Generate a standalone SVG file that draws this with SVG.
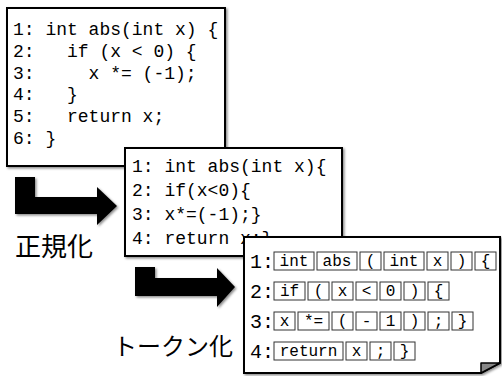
<svg xmlns="http://www.w3.org/2000/svg" width="502" height="376" viewBox="0 0 502 376">
  <defs>
    <filter id="shadow" x="-10%" y="-10%" width="130%" height="130%">
      <feDropShadow dx="1.5" dy="1.5" stdDeviation="1.2" flood-color="#000" flood-opacity="0.45"/>
    </filter>
    <style>
      .panel { fill: #fff; stroke: #000; stroke-width: 2; }
      .code { font-family: "Liberation Mono", "DejaVu Sans Mono", monospace; font-size: 18px; fill: #000; }
      .ln { font-family: "Liberation Mono", "DejaVu Sans Mono", monospace; font-size: 20px; fill: #000; }
      .tk rect { fill: #fff; stroke: #333; stroke-width: 1; }
      .tk text { font-family: "Liberation Mono", "DejaVu Sans Mono", monospace; font-size: 16px; fill: #000; text-anchor: middle; }
      .arrow { fill: #000; }
      .label { font-family: "Noto Sans CJK JP", "Noto Sans", sans-serif; fill: #000; }
      .fold { fill: #888; stroke: #000; stroke-width: 1.5; stroke-linejoin: round; }
    </style>
  </defs>

  <!-- original source -->
  <g id="source">
    <rect class="panel" x="7" y="8" width="218" height="158" filter="url(#shadow)"/>
    <text class="code" xml:space="preserve" x="13" y="35">1: int abs(int x) {</text>
    <text class="code" xml:space="preserve" x="13" y="57">2:   if (x &lt; 0) {</text>
    <text class="code" xml:space="preserve" x="13" y="78.5">3:     x *= (-1);</text>
    <text class="code" xml:space="preserve" x="13" y="100">4:   }</text>
    <text class="code" xml:space="preserve" x="13" y="122">5:   return x;</text>
    <text class="code" xml:space="preserve" x="13" y="143.5">6: }</text>
  </g>

  <!-- transformation arrows and labels -->
  <g id="connectors">
    <polygon class="arrow" filter="url(#shadow)" points="15,177 35,177 35,197 97,197 97,187 117,206 97,225 97,214 15,214"/>
    <polygon class="arrow" filter="url(#shadow)" points="135,267 155,267 155,278 217,278 217,268 235,287 217,307 217,296 135,296"/>
  </g>
  <g id="label-normalize">
    <text class="label" x="15" y="256" font-size="26">正規化</text>
  </g>
  <g id="label-tokenize">
    <text class="label" x="113" y="355" font-size="24">トークン化</text>
  </g>

  <!-- normalized source -->
  <g id="normalized">
    <rect class="panel" x="125" y="148" width="217" height="108" filter="url(#shadow)"/>
    <text class="code" xml:space="preserve" x="132" y="172">1: int abs(int x){</text>
    <text class="code" xml:space="preserve" x="132" y="196">2: if(x&lt;0){</text>
    <text class="code" xml:space="preserve" x="132" y="220">3: x*=(-1);}</text>
    <text class="code" xml:space="preserve" x="132" y="244">4: return x;}</text>
  </g>

  <!-- token sequence -->
  <g id="tokens">
    <path class="panel" filter="url(#shadow)" d="M244,237 H500 V363 L481,373 H244 Z"/>
    <path class="fold" d="M481,373 L481,363 L500,363 Z"/>

    <text class="ln" x="250" y="268">1:</text>
    <g class="tk">
      <rect x="274" y="252" width="40" height="18"/><text x="294" y="266">int</text>
      <rect x="317" y="252" width="40" height="18"/><text x="337" y="266">abs</text>
      <rect x="360" y="252" width="21" height="18"/><text x="370.5" y="266">(</text>
      <rect x="384" y="252" width="40" height="18"/><text x="404" y="266">int</text>
      <rect x="427" y="252" width="21" height="18"/><text x="437.5" y="266">x</text>
      <rect x="451" y="252" width="21" height="18"/><text x="461.5" y="266">)</text>
      <rect x="475" y="252" width="21" height="18"/><text x="485.5" y="266">{</text>
    </g>

    <text class="ln" x="250" y="298">2:</text>
    <g class="tk">
      <rect x="274" y="282" width="31" height="18"/><text x="289.5" y="296">if</text>
      <rect x="308" y="282" width="21" height="18"/><text x="318.5" y="296">(</text>
      <rect x="332" y="282" width="21" height="18"/><text x="342.5" y="296">x</text>
      <rect x="356" y="282" width="21" height="18"/><text x="366.5" y="296">&lt;</text>
      <rect x="380" y="282" width="21" height="18"/><text x="390.5" y="296">0</text>
      <rect x="404" y="282" width="21" height="18"/><text x="414.5" y="296">)</text>
      <rect x="428" y="282" width="21" height="18"/><text x="438.5" y="296">{</text>
    </g>

    <text class="ln" x="250" y="328">3:</text>
    <g class="tk">
      <rect x="274" y="312" width="21" height="18"/><text x="284.5" y="326">x</text>
      <rect x="298" y="312" width="31" height="18"/><text x="313.5" y="326">*=</text>
      <rect x="332" y="312" width="21" height="18"/><text x="342.5" y="326">(</text>
      <rect x="356" y="312" width="21" height="18"/><text x="366.5" y="326">-</text>
      <rect x="380" y="312" width="21" height="18"/><text x="390.5" y="326">1</text>
      <rect x="404" y="312" width="21" height="18"/><text x="414.5" y="326">)</text>
      <rect x="428" y="312" width="21" height="18"/><text x="438.5" y="326">;</text>
      <rect x="452" y="312" width="21" height="18"/><text x="462.5" y="326">}</text>
    </g>

    <text class="ln" x="250" y="358">4:</text>
    <g class="tk">
      <rect x="274" y="342" width="69" height="18"/><text x="308.5" y="356">return</text>
      <rect x="346" y="342" width="21" height="18"/><text x="356.5" y="356">x</text>
      <rect x="370" y="342" width="21" height="18"/><text x="380.5" y="356">;</text>
      <rect x="394" y="342" width="21" height="18"/><text x="404.5" y="356">}</text>
    </g>
  </g>
</svg>
